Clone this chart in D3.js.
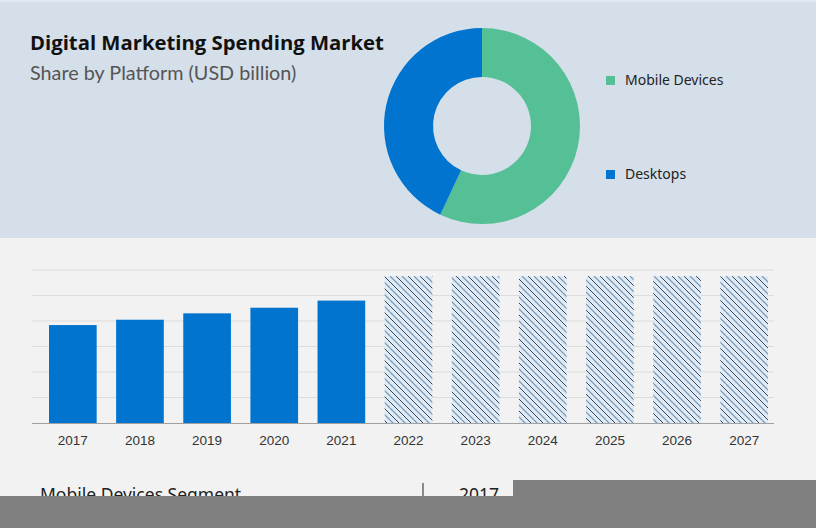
<!DOCTYPE html>
<html><head><meta charset="utf-8">
<script src="https://cdn.jsdelivr.net/npm/d3@7"></script>
<style>
html,body{margin:0;padding:0;background:#f2f2f2;}
svg{display:block;}
</style></head>
<body>
<svg id="chart" width="816" height="528"></svg>
<script>
// ---- data ----
const title = "Digital Marketing Spending Market";
const subtitle = "Share by Platform (USD billion)";
const platforms = ["Mobile Devices", "Desktops"];
const platformShares = [57, 43];
const platformColors = ["#55bf96", "#0074cf"];
const years = ["2017","2018","2019","2020","2021","2022","2023","2024","2025","2026","2027"];
const marketValues = [38.4, 40.5, 43.0, 45.2, 48.0, 57.6, 57.6, 57.6, 57.6, 57.6, 57.6];
const forecastFlags = [false,false,false,false,false,true,true,true,true,true,true];
const gridTicks = [0,10,20,30,40,50,60];
const segmentLabel = "Mobile Devices Segment";
const segmentYear = "2017";

const svg = d3.select("#chart");
const defs = svg.append("defs");
const pat = defs.append("pattern").attr("id","hatch").attr("patternUnits","userSpaceOnUse")
  .attr("width",12).attr("height",12);
pat.append("rect").attr("width",12).attr("height",12).attr("fill","#deebf7");
[[0,"#26303c",0.9],[6,"#6f90ad",1.1]].forEach(([o,c,w])=>{
  pat.append("path").attr("d",`M${o-12},0 L${o},12 M${o},0 L${o+12},12`)
    .attr("stroke",c).attr("stroke-width",w).attr("fill","none");
});

// top panel
svg.append("rect").attr("x",0).attr("y",0).attr("width",816).attr("height",238).attr("fill","#d4dfe9");
svg.append("rect").attr("x",0).attr("y",0).attr("width",816).attr("height",2).attr("fill","#e2e9f0");

svg.append("text").attr("x",30).attr("y",50).text(title)
  .attr("font-family","'Open Sans', 'Noto Sans', sans-serif").attr("font-weight",700)
  .attr("font-size",20.3).attr("fill","#111");
svg.append("text").attr("x",30).attr("y",80).text(subtitle)
  .attr("font-family","'Lato', 'Noto Sans', sans-serif").attr("font-weight",400)
  .attr("font-size",19.8).attr("fill","#555");

// donut
const pie = d3.pie().sort(null).value(d=>d);
const arc = d3.arc().innerRadius(49).outerRadius(98);
const g = svg.append("g").attr("transform","translate(482,126)");
g.selectAll("path").data(pie(platformShares)).join("path")
  .attr("d",arc).attr("fill",(d,i)=>platformColors[i]);

// legend
const legY = d3.scalePoint().domain(platforms).range([80,174]);
const leg = svg.append("g");
leg.selectAll("rect").data(platforms).join("rect")
  .attr("x",606).attr("y",d=>legY(d)-4).attr("width",9).attr("height",9)
  .attr("fill",(d,i)=>platformColors[i]);
leg.selectAll("text").data(platforms).join("text")
  .attr("x",625).attr("y",d=>legY(d)+5).text(d=>d)
  .attr("font-family","'Noto Sans', sans-serif").attr("font-size",14).attr("fill","#222");

// bar chart
const x = d3.scaleBand().domain(years).range([49,768]).paddingInner(0.29).paddingOuter(0);
const y = d3.scaleLinear().domain([0,60]).range([423,270]);
svg.append("g").selectAll("line").data(gridTicks.slice(1)).join("line")
  .attr("x1",32).attr("x2",774).attr("y1",d=>y(d)).attr("y2",d=>y(d))
  .attr("stroke","#dcdcdc").attr("stroke-width",1);
svg.append("g").selectAll("rect").data(years).join("rect")
  .attr("x",d=>x(d)).attr("width",x.bandwidth())
  .attr("y",(d,i)=>y(marketValues[i])).attr("height",(d,i)=>y(0)-y(marketValues[i]))
  .attr("fill",(d,i)=>forecastFlags[i]?"url(#hatch)":"#0074cf");
const xAxis = svg.append("g").attr("transform","translate(0,423)")
  .call(d3.axisBottom(x).tickSize(0).tickPadding(12));
xAxis.select(".domain").remove();
svg.append("line").attr("x1",32).attr("x2",774).attr("y1",423.5).attr("y2",423.5)
  .attr("stroke","#a0a0a0");
xAxis.selectAll("text").attr("font-family","'Liberation Sans', Arial, sans-serif")
  .attr("font-size",13.5).attr("fill","#333");

// bottom partial section
svg.append("text").attr("x",40).attr("y",501).text(segmentLabel)
  .attr("font-family","'Noto Sans', sans-serif").attr("font-size",17.5).attr("fill","#222");
svg.append("line").attr("x1",423).attr("x2",423).attr("y1",483).attr("y2",497)
  .attr("stroke","#444").attr("stroke-width",1.2);
svg.append("text").attr("x",459).attr("y",501).text(segmentYear)
  .attr("font-family","'Noto Sans', sans-serif").attr("font-size",17.5).attr("fill","#222");
svg.append("rect").attr("x",513).attr("y",480).attr("width",303).attr("height",48).attr("fill","#808080");
svg.append("rect").attr("x",0).attr("y",496).attr("width",816).attr("height",32).attr("fill","#808080");
</script>
</body></html>
